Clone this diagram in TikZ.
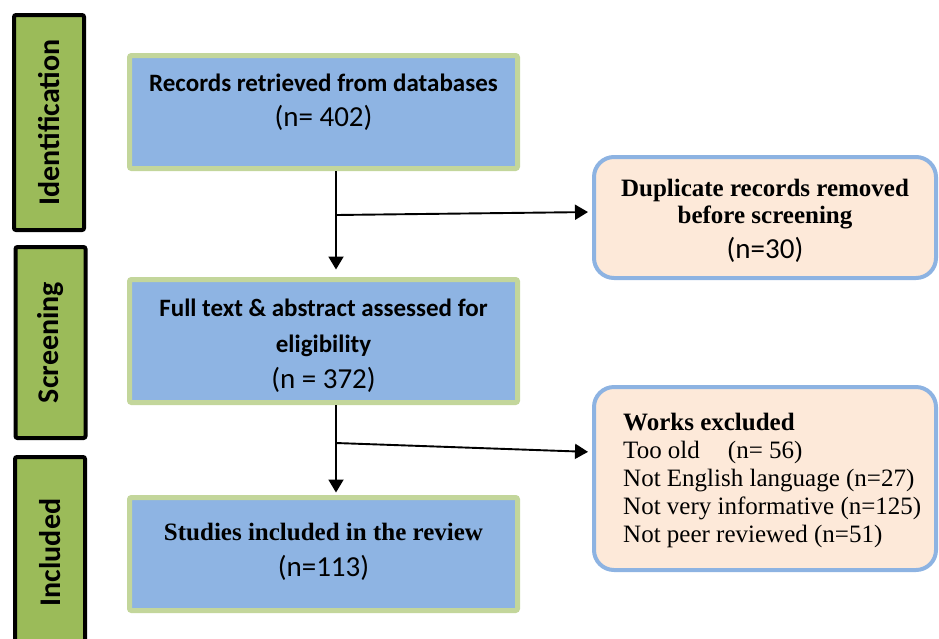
\documentclass[tikz,border=0pt]{standalone}
\usepackage{fontspec}
\setmainfont{Liberation Serif}
\newfontfamily\calibri{Carlito}
\newcommand\tallyfont{\calibri\mdseries\fontsize{29}{36}\selectfont}
\usepackage{xcolor}
\usetikzlibrary{arrows.meta}
\definecolor{stagegreen}{HTML}{9BBB59}
\definecolor{boxblue}{HTML}{8EB4E3}
\definecolor{rimgreen}{HTML}{C3D69B}
\definecolor{boxpeach}{HTML}{FDE9D9}
\definecolor{rimblue}{HTML}{8DB3E2}

\begin{document}
\begin{tikzpicture}[x=1pt,y=-1pt,
    stage/.style={draw=black,line width=4pt,fill=stagegreen,rounded corners=2pt,rotate=90,minimum height=70pt,inner sep=0pt,font=\calibri\bfseries\fontsize{30}{32}\selectfont},
    bluebox/.style={draw=rimgreen,line width=5pt,fill=boxblue,rounded corners=2pt,minimum width=388pt,inner sep=0pt},
    peachbox/.style={draw=rimblue,line width=4pt,fill=boxpeach,rounded corners=20pt,minimum width=342pt,inner sep=0pt},
    boxtext/.style={inner sep=0pt,align=center},
    arr/.style={line width=1.9pt,-{Triangle[length=13pt,width=15pt]}}]
                            \useasboundingbox (0,0) rectangle (939,638);
                            \clip (0,0) rectangle (939,638);
                            \node [stage,minimum width=215pt] (ident) at (49,122.5) {Identification};
                            \node [stage,minimum width=191pt] (screen) at (50.5,342.5) {Screening};
                            \node [stage,minimum width=191pt] (incl) at (50,552.5) {Included};
                            \node [bluebox,minimum height=113pt] (rec) at (323.5,112) {};
                            \node [bluebox,minimum height=123pt] (full) at (323.5,341) {};
                            \node [bluebox,minimum height=113pt] (study) at (323.5,554) {};
                            \node [peachbox,minimum height=121pt] (dup) at (765,217.5) {};
                            \node [peachbox,minimum height=183pt] (excl) at (765,478.5) {};
                            \node [boxtext,font=\calibri\bfseries\fontsize{25}{35}\selectfont] (rectext) at (323.5,102.5) {Records retrieved from databases\\{\tallyfont (n= 402)}};
                            \node [boxtext,font=\calibri\bfseries\fontsize{25}{36}\selectfont] (fulltext) at (323.5,345.5) {Full text \& abstract assessed for\\eligibility\\{\tallyfont (n = 372)}};
                            \node [boxtext,font=\bfseries\fontsize{25}{36}\selectfont] (studytext) at (323.5,552) {Studies included in the review\\{\tallyfont (n=113)}};
                            \node [boxtext,font=\bfseries\fontsize{25}{27}\selectfont] (duptext) at (765,221) {Duplicate records removed\\before screening\\[8pt]{\tallyfont (n=30)}};
                            \node [boxtext,font=\fontsize{25}{28}\selectfont,align=left,anchor=west] (excltext) at (623,480) {\textbf{Works excluded}\\Too old\hspace{28pt}(n= 56)\\Not English language (n=27)\\Not very informative (n=125)\\Not peer reviewed (n=51)};
                            \coordinate (trunk) at (336,0);
                            \coordinate (fork1) at (336,215);
                            \coordinate (fork2) at (336,443);
                            \draw [arr,shorten >=7.5pt] (rec.south -| trunk) -- (full.north -| trunk);
                            \draw [arr,shorten >=2.5pt] (full.south -| trunk) -- (study.north -| trunk);
                            \draw [arr,shorten >=4pt] (fork1) -- ([yshift=5.5pt]dup.west);
                            \draw [arr,shorten >=4pt] (fork2) -- ([yshift=26.5pt]excl.west);
                        \end{tikzpicture}
\end{document}
